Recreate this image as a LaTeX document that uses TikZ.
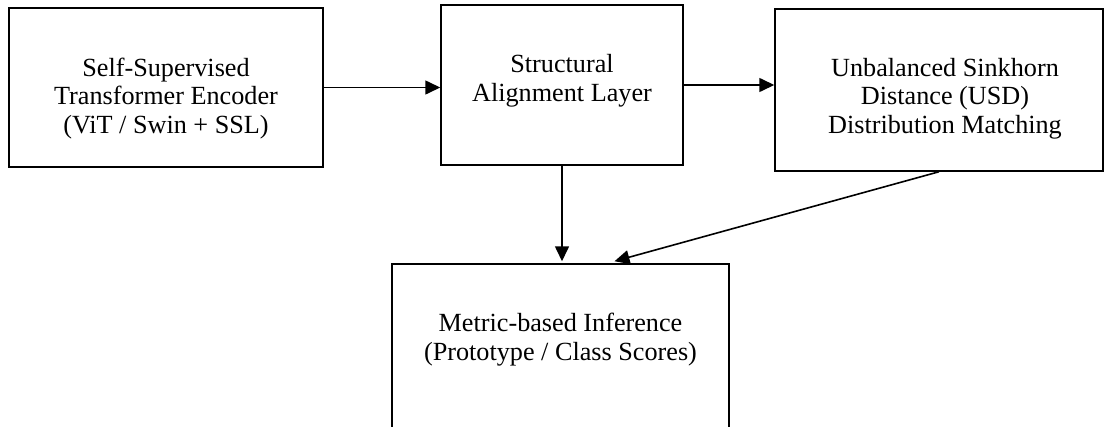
\documentclass[tikz,border=0pt]{standalone}
\usepackage{fontspec}
\setmainfont{Liberation Serif}
\usetikzlibrary{arrows.meta,calc}
\tikzset{
  box/.style={draw=black, line width=1.5pt, rectangle, inner sep=0pt},
  boxtext/.style={align=center, anchor=base, inner sep=0pt, font=\fontsize{26.2}{28.5}\selectfont},
  link/.style={draw=black, line width=1.6pt, -{Triangle[length=15pt,width=14pt]}}
}
\begin{document}
\begin{tikzpicture}[x=1pt,y=-1pt]
\useasboundingbox (0,0) rectangle (1105,426);
\clip (0,0) rectangle (1105,426);
\fill[white] (0,0) rectangle (1105,426);
\node[box, minimum width=314pt, minimum height=159pt] (b1) at (166,87.5) {};
\node[box, minimum width=242pt, minimum height=160pt] (b2) at (562,85) {};
\node[box, minimum width=328pt, minimum height=162pt] (b3) at (939,90) {};
\node[box, minimum width=337pt, minimum height=190pt] (b4) at (560.5,359) {};
\node[boxtext] (t1) at (166,133) {Self-Supervised\\Transformer Encoder\\(ViT / Swin + SSL)};
\node[boxtext] (t2) at (562,101) {Structural\\Alignment Layer};
\node[boxtext] (t3) at (945,133) {Unbalanced Sinkhorn\\Distance (USD)\\Distribution Matching};
\node[boxtext] (t4) at (560.5,360) {Metric-based Inference\\(Prototype / Class Scores)};
\coordinate (e4) at ([xshift=54pt, yshift=2pt]b4.north);
\draw[link] (b1.east) -- (b1.east -| b2.west);
\draw[link] (b2.east) -- (b2.east -| b3.west);
\draw[link, shorten >=2pt] (b2.south) -- (b2.south |- b4.north);
\draw[link] (b3.south) -- (e4);
\end{tikzpicture}
\end{document}
